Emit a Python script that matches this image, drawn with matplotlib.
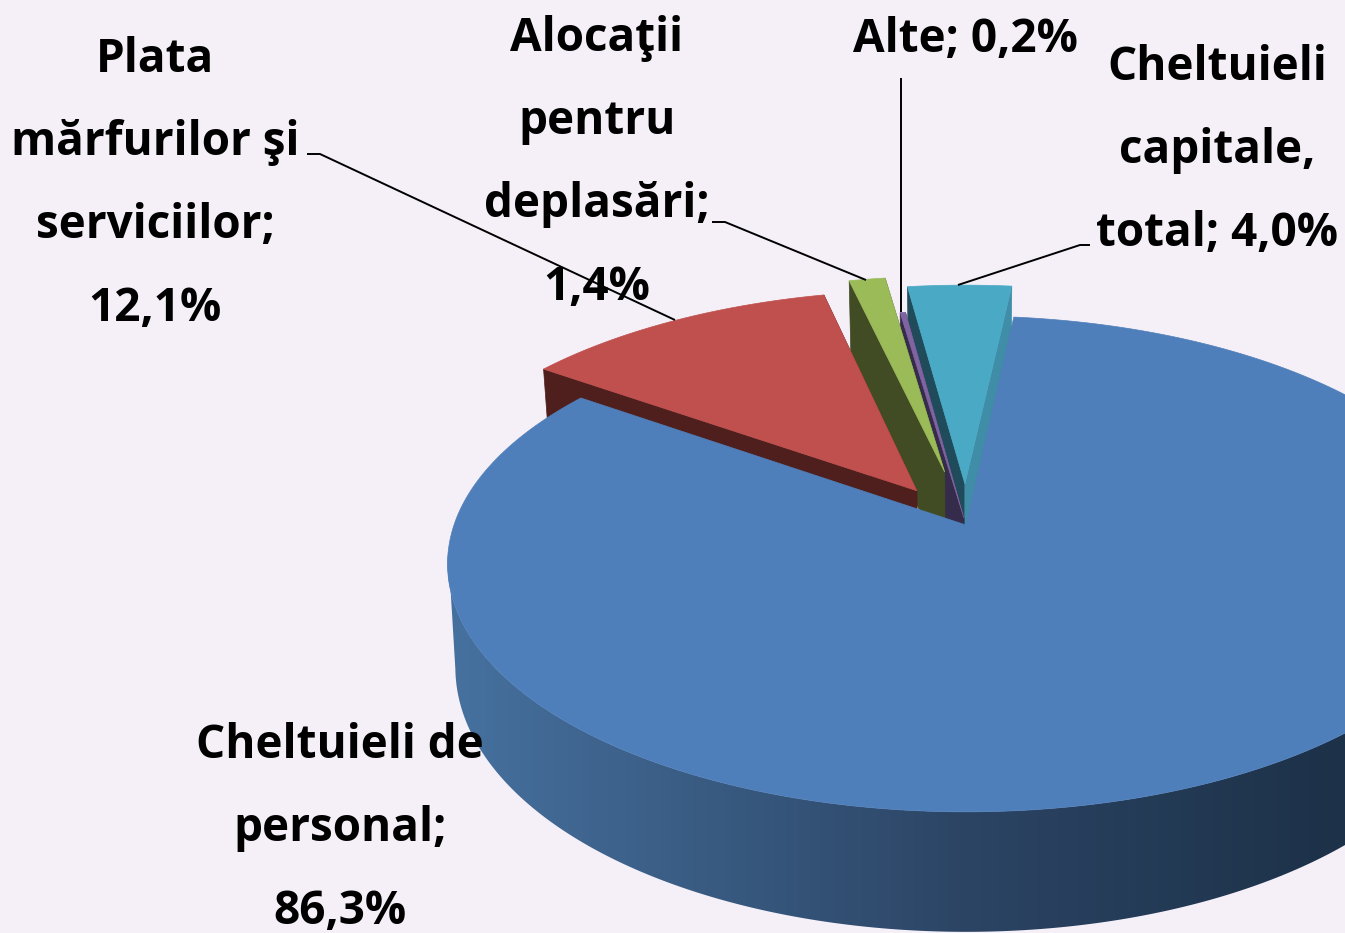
"""Exploded 3D pie of budget shares, drawn on a pixel canvas with a perspective projection."""

import matplotlib
matplotlib.use("Agg")
import matplotlib.pyplot as plt
import numpy as np
from matplotlib.colors import to_rgb
from matplotlib.patches import Polygon

names = ["Cheltuieli de\npersonal;", "Plata\nmărfurilor şi\nserviciilor;",
         "Alocaţii\npentru\ndeplasări;", "Alte;", "Cheltuieli\ncapitale,\ntotal;"]
values = [86.3, 12.1, 1.4, 0.2, 4.0]
top_colors = ["#4f7fba", "#bf504d", "#9bbb59", "#8064a2", "#4aa9c4"]
left_colors = ["#3f6a9e", "#4f1f1e", "#414c24", "#352b4a", "#1f4b5a"]
right_colors = ["#3f6a9e", "#4f1f1e", "#414c24", "#352b4a", "#3f8da6"]
explode = [0, 0.175, 0.231, 0.03, 0.175]

BG = "#f5f0f8"
X0, Y0 = 966, 525      # projected centre of the pie
AX, AY = 512, 241.8
K = 0.157              # perspective strength
START = 6.2            # degrees clockwise from the back


def project(x, y):
    w = 1 + K * y
    return X0 + AX * x / w, Y0 - AY * y / w


def thickness(y):
    return 100 - 20 * y


def top_edge(x, y):
    return np.column_stack(project(x, y))


def bottom_edge(x, y):
    px, py = project(x, y)
    return np.column_stack((X0 + (px - X0) * 0.985, py + thickness(y)))


fig = plt.figure(figsize=(13.45, 9.33), dpi=100, facecolor=BG)
ax = fig.add_axes([0, 0, 1, 1])

shares = np.array(values) / sum(values) * 360
starts = START + np.concatenate(([0], np.cumsum(shares)[:-1]))


def slice_parts(i):
    a0, a1 = np.radians(starts[i]), np.radians(starts[i] + shares[i])
    mid = (a0 + a1) / 2
    cx, cy = explode[i] * np.sin(mid), explode[i] * np.cos(mid)
    t = np.linspace(a0, a1, 80)
    return np.array([cx]), np.array([cy]), cx + np.sin(t), cy + np.cos(t)


def draw_faces(i, z):
    apex_x, apex_y, xs, ys = slice_parts(i)
    for idx, col in ((0, left_colors[i]), (-1, right_colors[i])):
        ex, ey = np.array([xs[idx]]), np.array([ys[idx]])
        face = np.vstack((top_edge(apex_x, apex_y), top_edge(ex, ey),
                          bottom_edge(ex, ey), bottom_edge(apex_x, apex_y)))
        ax.add_patch(Polygon(face, closed=True, fc=col, ec=col, lw=0.5, zorder=z))


def draw_top(i, z):
    apex_x, apex_y, xs, ys = slice_parts(i)
    top = np.vstack((top_edge(apex_x, apex_y), top_edge(xs, ys)))
    ax.add_patch(Polygon(top, closed=True, fc=top_colors[i], ec=top_colors[i], lw=0.5, zorder=z))


# painter's order worked out by eye against the source picture
draw_faces(4, 1.0)
draw_faces(3, 1.1)
draw_faces(2, 1.2)
draw_top(2, 1.3)
draw_faces(1, 1.4)
draw_top(1, 1.5)
draw_top(3, 1.6)
draw_top(4, 1.7)

# blue slice: outer wall with a left-right gradient, then the top
a0, a1 = np.radians(starts[0]), np.radians(starts[0] + shares[0])
t = np.linspace(a0, a1, 700)
xs, ys = np.sin(t), np.cos(t)
upper, lower = top_edge(xs, ys), bottom_edge(xs, ys)

grad_x = np.linspace(440, 1345, 400)
anchors = [to_rgb("#46719f"), to_rgb("#2c4565"), to_rgb("#1d3249")]
grad = np.stack([np.interp(grad_x, [450, 960, 1330], [c[k] for c in anchors]) for k in range(3)], axis=-1)
# cut each rim near its leftmost point so the closing edge is the silhouette tangent
wall = Polygon(np.vstack((upper[ys < -0.10], lower[ys < -0.16][::-1])), closed=True, transform=ax.transData)
img = ax.imshow(grad[np.newaxis, :, :], extent=(440, 1345, 933, 300), aspect="auto", zorder=3, interpolation="bilinear")
img.set_clip_path(wall)

top = np.vstack(([[X0, Y0]], upper))
ax.add_patch(Polygon(top, closed=True, fc=top_colors[0], ec=top_colors[0], lw=0.5, zorder=4))

# leader lines
leaders = [([307, 320, 675], [154, 154, 320]),
           ([712, 725, 866], [222, 222, 280]),
           ([901, 901], [78, 312]),
           ([1090, 1080, 958], [245, 245, 285])]
for lx, ly in leaders:
    ax.plot(lx, ly, color="black", lw=1.4, zorder=5, solid_capstyle="butt")

# labels
label_pos = [(340, 828), (155, 184), (597, 163), (965, 39), (1217, 151)]
for name, val, (tx, ty) in zip(names, values, label_pos):
    pct = f"{val:.1f}%".replace(".", ",")
    sep = " " if name == "Alte;" or name.endswith("total;") else "\n"
    ax.text(tx, ty, name + sep + pct, ha="center", va="center", multialignment="center",
            fontsize=33, fontweight="bold", family="Open Sans", color="black",
            linespacing=2.0, zorder=6)

ax.set_xlim(0, 1345)
ax.set_ylim(933, 0)
ax.axis("off")
fig.savefig("out.png", dpi=100, facecolor=BG)
